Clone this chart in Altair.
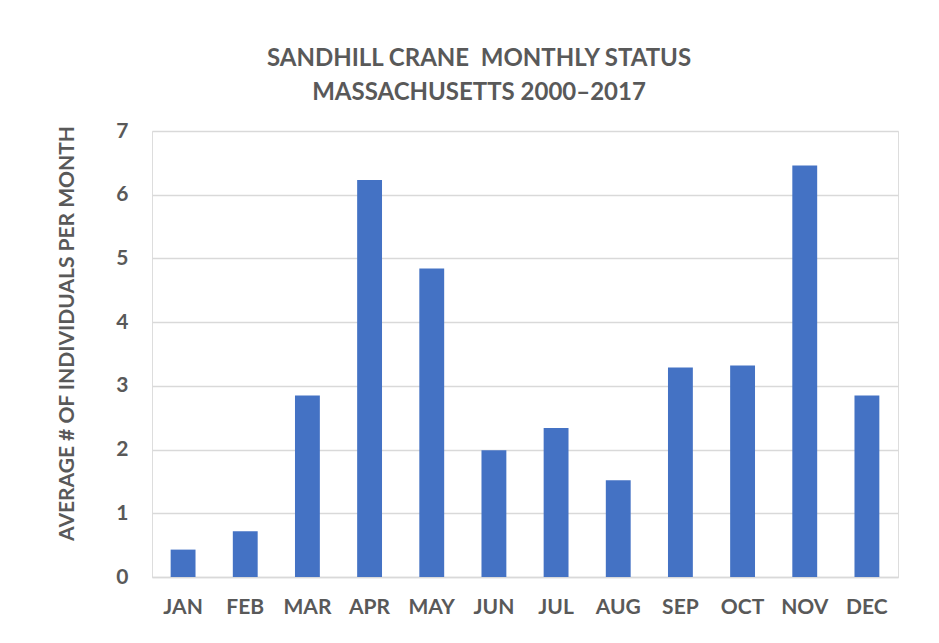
import altair as alt
import pandas as pd

months = ["JAN", "FEB", "MAR", "APR", "MAY", "JUN", "JUL", "AUG", "SEP", "OCT", "NOV", "DEC"]
values = [0.43, 0.72, 2.85, 6.23, 4.84, 1.99, 2.34, 1.52, 3.29, 3.32, 6.46, 2.85]
y_ticks = [0, 1, 2, 3, 4, 5, 6, 7]

df = pd.DataFrame({"month": months, "value": values})

FONT = "Lato"
TXT = "#595959"
GRID = "#D9D9D9"

chart = alt.Chart(df).mark_bar(color="#4472C4").encode(
    x=alt.X(
        "month:N",
        sort=months,
        scale=alt.Scale(paddingInner=0.6, paddingOuter=0.3),
        axis=alt.Axis(
            title=None, labelAngle=0, ticks=False, domain=True,
            domainColor=GRID, domainWidth=1.5,
            labelFont=FONT, labelFontSize=21, labelFontWeight="bold",
            labelColor=TXT, labelPadding=19,
        ),
    ),
    y=alt.Y(
        "value:Q",
        scale=alt.Scale(domain=[0, 7], nice=False),
        axis=alt.Axis(
            values=y_ticks, format="d", ticks=False, domain=False,
            grid=True, gridColor=GRID, gridWidth=1.5,
            labelFont=FONT, labelFontSize=21, labelFontWeight="bold",
            labelColor=TXT, labelPadding=24,
            title="AVERAGE # OF INDIVIDUALS PER MONTH",
            titleFont=FONT, titleFontSize=21, titleFontWeight="bold",
            titleColor=TXT, titleX=-85, titleY=202, titleAngle=270,
            titleAlign="center", titleBaseline="middle",
        ),
    ),
).properties(
    width=746,
    height=446,
    title=alt.TitleParams(
        text=["SANDHILL CRANE \u00a0MONTHLY STATUS", "MASSACHUSETTS 2000\u20132017"],
        font=FONT, fontSize=24, fontWeight="bold", color=TXT,
        anchor="middle", lineHeight=34, offset=15, dx=-46,
    ),
    autosize=alt.AutoSizeParams(type="none"),
    padding={"left": 144, "top": 123, "right": 33, "bottom": 50},
).configure_view(stroke=None).configure(background="white")

chart.save("out.html", embed_options={"renderer": "svg", "actions": False})
